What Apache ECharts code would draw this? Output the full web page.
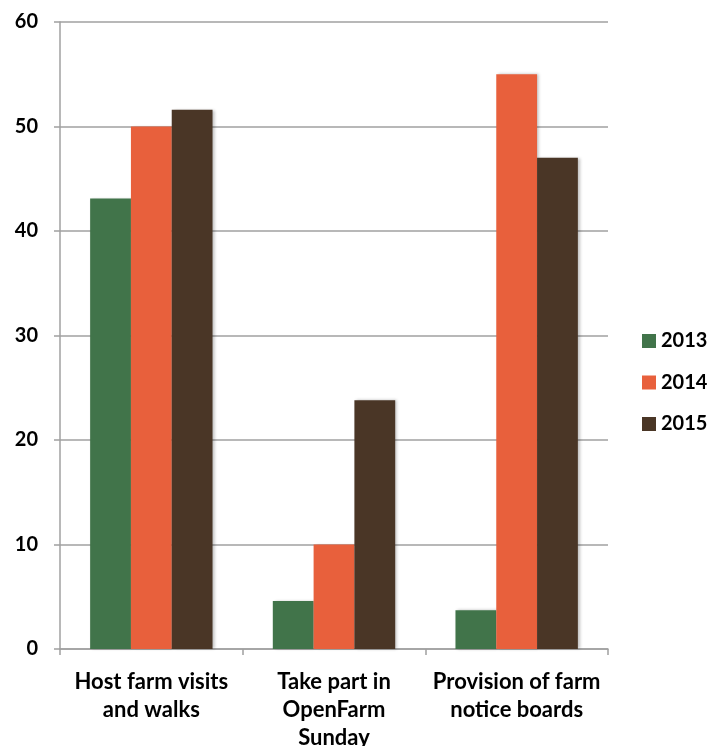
<!DOCTYPE html>
<html>
<head>
<meta charset="utf-8">
<script src="https://cdn.jsdelivr.net/npm/echarts@6/dist/echarts.min.js"></script>
<style>
  html, body { margin: 0; padding: 0; background: #ffffff; }
  #chart { width: 712px; height: 746px; }
</style>
</head>
<body>
<div id="chart"></div>
<script>
// Farm engagement activities by year (percentage of respondents)
const categories = [
  'Host farm visits\nand walks',
  'Take part in\nOpenFarm\nSunday',
  'Provision of farm\nnotice boards'
];
const years = ['2013', '2014', '2015'];
const values2013 = [43.1, 4.6, 3.7];
const values2014 = [50, 10, 55];
const values2015 = [51.6, 23.8, 47];
const yTicks = [0, 10, 20, 30, 40, 50, 60];

const colors = ['#41744a', '#e8603c', '#4a3626'];
const seriesValues = [values2013, values2014, values2015];
const font = 'Lato, "Open Sans", sans-serif';

const chart = echarts.init(document.getElementById('chart'), null, { renderer: 'canvas' });

chart.setOption({
  animation: false,
  backgroundColor: '#ffffff',
  grid: { left: 60, right: 104, top: 22, bottom: 97, containLabel: false, outerBoundsMode: 'none' },
  legend: {
    orient: 'vertical',
    left: 642,
    top: 331,
    padding: 0,
    itemWidth: 14,
    itemHeight: 14,
    itemGap: 21.5,
    icon: 'rect',
    textStyle: { fontFamily: font, fontWeight: 'bold', fontSize: 20, color: '#000' },
    data: years
  },
  xAxis: {
    type: 'category',
    data: categories,
    axisLine: { show: true, lineStyle: { color: '#a0a0a0', width: 1.5 } },
    axisTick: { show: true, length: 6, alignWithLabel: false, lineStyle: { color: '#a0a0a0', width: 1.5 } },
    axisLabel: {
      margin: 19,
      fontFamily: font,
      fontWeight: 'bold',
      fontSize: 22,
      lineHeight: 28,
      color: '#000',
      interval: 0
    },
    splitLine: { show: false }
  },
  yAxis: {
    type: 'value',
    min: yTicks[0],
    max: yTicks[yTicks.length - 1],
    interval: 10,
    axisLine: { show: true, lineStyle: { color: '#a0a0a0', width: 1.5 } },
    axisTick: { show: true, length: 6, lineStyle: { color: '#a0a0a0', width: 1.5 } },
    axisLabel: {
      margin: 22,
      fontFamily: font,
      fontWeight: 'bold',
      fontSize: 20,
      color: '#000'
    },
    splitLine: { show: true, lineStyle: { color: '#a0a0a0', width: 1.5 } }
  },
  series: years.map((y, i) => ({
    name: y,
    type: 'bar',
    data: seriesValues[i],
    barGap: '0%',
    barCategoryGap: '33%',
    itemStyle: {
      color: colors[i],
      shadowColor: 'rgba(0,0,0,0.25)',
      shadowBlur: 3,
      shadowOffsetX: 2,
      shadowOffsetY: 0
    }
  }))
});
</script>
</body>
</html>
